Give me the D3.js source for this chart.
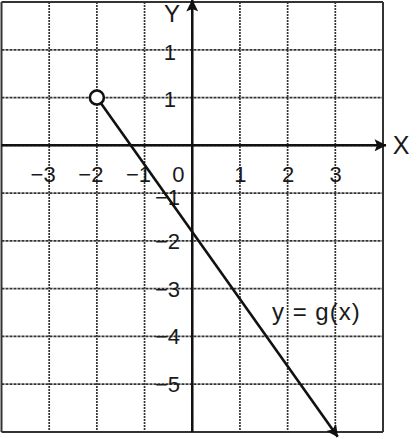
<!DOCTYPE html>
<html>
<head>
<meta charset="utf-8">
<script src="https://cdn.jsdelivr.net/npm/d3@7"></script>
<style>
  html, body { margin: 0; padding: 0; background: #fff; }
  svg { display: block; }
  text { font-family: "Liberation Sans", Arial, sans-serif; fill: #1a1a1a; }
</style>
</head>
<body>
<script>
// ---- data ----
const xTicks = [-3, -2, -1, 0, 1, 2, 3];
const xTickLabels = ["−3", "−2", "−1", "0", "1", "2", "3"];
const yTicks = [2, 1, -1, -2, -3, -4, -5];
const yTickLabels = ["1", "1", "−1", "−2", "−3", "−4", "−5"];
const gridX = [-4, -3, -2, -1, 0, 1, 2, 3, 4];
const gridY = [3, 2, 1, 0, -1, -2, -3, -4, -5, -6];
const lineStart = [-2, 1];      // open circle
const lineEnd = [3.05, -6.1];   // arrow tip
const curveLabel = "y = g(x)";

const W = 418, H = 439;
const svg = d3.select("body").append("svg").attr("width", W).attr("height", H);

const x = d3.scaleLinear().domain([-4, 4]).range([1.5, 383]);
const y = d3.scaleLinear().domain([3, -6]).range([2, 432]);

const defs = svg.append("defs");
defs.append("marker").attr("id", "arr")
  .attr("viewBox", "0 0 10 10").attr("refX", 9.5).attr("refY", 5)
  .attr("markerWidth", 18).attr("markerHeight", 12).attr("markerUnits", "userSpaceOnUse")
  .attr("orient", "auto")
  .append("path").attr("d", "M0,0 L10,5 L0,10 L2,5 Z").attr("fill", "#111");

// grid
const g = svg.append("g");
g.selectAll("line.gx").data(gridX).join("line")
  .attr("x1", d => x(d)).attr("x2", d => x(d))
  .attr("y1", y(3)).attr("y2", y(-6))
  .attr("stroke", "#333").attr("stroke-width", d => (d === -4 || d === 4) ? 2 : 1.7)
  .attr("stroke-dasharray", d => (d === -4 || d === 4) ? null : "2,1");
g.selectAll("line.gy").data(gridY).join("line")
  .attr("y1", d => y(d)).attr("y2", d => y(d))
  .attr("x1", x(-4)).attr("x2", x(4))
  .attr("stroke", "#333").attr("stroke-width", d => (d === 3 || d === -6) ? 2 : 1.7)
  .attr("stroke-dasharray", d => (d === 3 || d === -6) ? null : "3,1");

// axes
svg.append("line").attr("x1", x(-4)).attr("x2", x(4) + 3)
  .attr("y1", y(0)).attr("y2", y(0))
  .attr("stroke", "#111").attr("stroke-width", 2.5).attr("marker-end", "url(#arr)");
svg.append("line").attr("x1", x(0)).attr("x2", x(0))
  .attr("y1", y(-6)).attr("y2", 0)
  .attr("stroke", "#111").attr("stroke-width", 2.5).attr("marker-end", "url(#arr)");

// axis names
svg.append("text").attr("x", 401).attr("y", y(0)).attr("dy", "0.36em")
  .attr("text-anchor", "middle").attr("font-size", 25).text("X");
svg.append("text").attr("x", 172).attr("y", 22)
  .attr("text-anchor", "middle").attr("font-size", 24).text("Y");

// x tick labels
svg.selectAll("text.xt").data(xTicks).join("text")
  .attr("x", (d, i) => d === 0 ? x(d) - 14 : x(d) + 6.5)
  .attr("y", 182)
  .attr("text-anchor", d => d === 0 ? "middle" : "end")
  .attr("font-size", 22)
  .text((d, i) => xTickLabels[i]);

// y tick labels
svg.selectAll("text.yt").data(yTicks).join("text")
  .attr("x", d => d > 0 ? 176 : 180)
  .attr("y", d => y(d) + (d > 0 ? 2 : (d === -1 ? 4 : 0)))
  .attr("dy", "0.36em")
  .attr("text-anchor", "end")
  .attr("font-size", 22)
  .text((d, i) => yTickLabels[i]);

// function line
const px0 = x(lineStart[0]), py0 = y(lineStart[1]);
const px1 = x(lineEnd[0]), py1 = y(lineEnd[1]);
const len = Math.hypot(px1 - px0, py1 - py0);
const r = 7;
svg.append("line")
  .attr("x1", px0 + (px1 - px0) / len * r).attr("y1", py0 + (py1 - py0) / len * r)
  .attr("x2", px1).attr("y2", py1)
  .attr("stroke", "#111").attr("stroke-width", 2.6).attr("marker-end", "url(#arr)");
svg.append("circle").attr("cx", px0).attr("cy", py0).attr("r", r)
  .attr("fill", "#fff").attr("stroke", "#111").attr("stroke-width", 2.6);

// curve label
svg.append("text").attr("x", 272).attr("y", 320)
  .attr("font-size", 24).attr("letter-spacing", 1).text(curveLabel);
</script>
</body>
</html>
